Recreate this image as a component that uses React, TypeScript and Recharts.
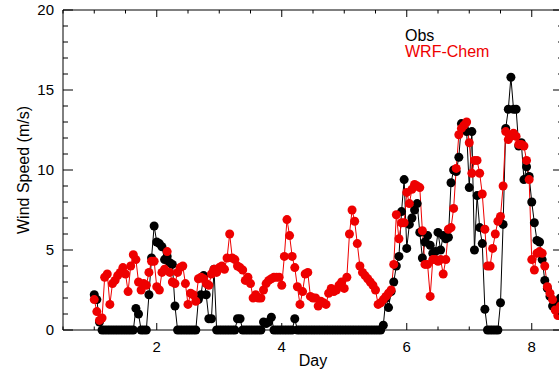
import React from 'react';
import { LineChart, Line, XAxis, YAxis } from 'recharts';

// hourly samples, starting at day 1.0
const START_DAY = 1;
const HOURS_PER_DAY = 24;

const DAY_TICKS = [0.5, 1, 1.5, 2, 2.5, 3, 3.5, 4, 4.5, 5, 5.5, 6, 6.5, 7, 7.5, 8, 8.5];
const DAY_LABELS = [2, 4, 6, 8];
const SPEED_TICKS = [0, 1, 2, 3, 4, 5, 6, 7, 8, 9, 10, 11, 12, 13, 14, 15, 16, 17, 18, 19, 20];
const SPEED_LABELS = [0, 5, 10, 15, 20];

// Obs wind speed (m/s), one row per day
const OBS_D1 = [2.2, 1.9, 0.5, 0, 0, 0, 0, 0, 0, 0, 0, 0, 0, 0, 0, 0, 1.35, 1.0, 0, 0, 0, 2.2, 4.5, 6.5];
const OBS_D2 = [5.5, 5.4, 5.2, 4.4, 4.6, 4.2, 4.1, 1.5, 0, 0, 0, 0, 0, 0, 0, 0, 1.9, 2.2, 3.4, 2.2, 0.7, 0.7, 3.8, 0];
const OBS_D3 = [0, 0, 0, 0, 0, 0, 0, 0.7, 0.7, 0, 0, 0, 0, 0, 0, 0, 0, 0.5, 0.4, 0.5, 0.8, 0, 0, 0];
const OBS_D4 = [0, 0, 0, 0, 0, 0.7, 0, 0, 0, 0, 0, 0, 0, 0, 0, 0, 0, 0, 0, 0, 0, 0, 0, 0];
const OBS_D5 = [0, 0, 0, 0, 0, 0, 0, 0, 0, 0, 0, 0, 0, 0, 0, 0.3, 2.0, 1.4, 2.4, 3.0, 4.0, 4.6, 7.4, 9.4];
const OBS_D6 = [5.1, 6.6, 7.0, 7.5, 7.9, 6.1, 4.5, 5.5, 5.9, 5.3, 4.8, 4.9, 6.1, 5.0, 5.9, 5.7, 5.8, 9.2, 10.0, 9.9, 10.8, 12.9, 12.7, 12.4];
const OBS_D7 = [8.9, 12.4, 5.0, 8.4, 6.4, 5.4, 1.3, 0, 0, 0, 0, 0, 1.7, 6.6, 12.6, 13.8, 15.8, 13.8, 13.8, 11.5, 11.7, 9.4, 10.2, 9.6];
const OBS_D8 = [8.0, 6.7, 5.6, 5.5, 4.4, 3.1, 2.6, 2.1, 1.5, 1.4, 1.7, 2.0];

// WRF-Chem wind speed (m/s)
const WRF_D1 = [1.9, 1.15, 0.6, 0.75, 3.3, 3.5, 1.6, 2.9, 3.1, 3.4, 3.6, 3.9, 3.5, 2.4, 4.0, 4.7, 4.4, 3.0, 2.5, 2.9, 2.8, 3.6, 4.3, 4.3];
const WRF_D2 = [2.7, 2.5, 3.6, 3.8, 4.9, 3.6, 3.0, 2.9, 3.6, 3.9, 4.0, 2.9, 1.6, 2.3, 2.2, 1.8, 3.2, 3.3, 3.2, 2.9, 2.8, 3.5, 3.8, 3.6];
const WRF_D3 = [3.9, 4.0, 3.8, 4.5, 6.0, 4.5, 4.4, 4.0, 3.9, 3.75, 3.1, 3.3, 2.9, 2.0, 2.2, 2.0, 2.0, 2.5, 2.9, 3.1, 3.2, 3.3, 3.3, 3.3];
const WRF_D4 = [2.8, 4.6, 6.9, 5.9, 4.6, 3.9, 2.7, 1.6, 2.4, 3.5, 3.6, 2.1, 2.0, 2.0, 1.5, 1.8, 1.7, 1.6, 2.3, 2.6, 2.4, 2.5, 2.8, 3.0];
const WRF_D5 = [2.6, 3.3, 6.0, 7.5, 6.8, 5.4, 4.0, 3.6, 3.4, 3.2, 3.0, 2.8, 2.5, 1.6, 1.7, 1.9, 2.1, 2.3, 2.5, 4.1, 7.2, 5.7, 6.7, 6.7];
const WRF_D6 = [8.6, 7.9, 8.8, 9.1, 9.0, 8.9, 6.2, 4.1, 4.1, 2.1, 4.4, 4.4, 4.3, 4.4, 3.5, 4.4, 6.3, 6.4, 7.6, 10.1, 12.2, 12.6, 12.8, 13.0];
const WRF_D7 = [11.7, 9.8, 10.6, 10.6, 9.8, 8.5, 6.3, 4.0, 4.0, 5.1, 6.0, 6.8, 7.1, 9.0, 12.4, 11.9, 12.1, 12.3, 12.1, 11.6, 11.6, 11.5, 10.6, 9.4];
const WRF_D8 = [4.4, 3.75, 4.8, 4.9, 4.8, 4.0, 2.7, 2.3, 1.9, 1.25, 0.9, 1.5];

const obsSpeed = [...OBS_D1, ...OBS_D2, ...OBS_D3, ...OBS_D4, ...OBS_D5, ...OBS_D6, ...OBS_D7, ...OBS_D8];
const wrfSpeed = [...WRF_D1, ...WRF_D2, ...WRF_D3, ...WRF_D4, ...WRF_D5, ...WRF_D6, ...WRF_D7, ...WRF_D8];

const chartData = obsSpeed.map((v, i) => ({
  day: START_DAY + i / HOURS_PER_DAY,
  obs: v,
  wrf: wrfSpeed[i],
}));

const FONT = '"Liberation Sans", Arial, Helvetica, sans-serif';
const RED = '#ee0000';

// IDL-style inward ticks
const BottomTick = ({ x, y, payload }: any) => {
  const major = DAY_LABELS.includes(payload.value);
  return (
    <g>
      <line x1={x} y1={y} x2={x} y2={y - (major ? 7 : 3.5)} stroke="#000" strokeWidth={1} />
      {major && (
        <text x={x} y={y + 22} textAnchor="middle" fontSize={15} fontFamily={FONT} fill="#000">
          {payload.value}
        </text>
      )}
    </g>
  );
};

const TopTick = ({ x, y, payload }: any) => {
  const major = DAY_LABELS.includes(payload.value);
  return <line x1={x} y1={y} x2={x} y2={y + (major ? 7 : 3.5)} stroke="#000" strokeWidth={1} />;
};

const LeftTick = ({ x, y, payload }: any) => {
  const major = SPEED_LABELS.includes(payload.value);
  return (
    <g>
      <line x1={x} y1={y} x2={x + (major ? 10 : 5)} y2={y} stroke="#000" strokeWidth={1} />
      {major && (
        <text x={x - 9} y={y + 5} textAnchor="end" fontSize={15} fontFamily={FONT} fill="#000">
          {payload.value}
        </text>
      )}
    </g>
  );
};

const RightTick = ({ x, y, payload }: any) => {
  const major = SPEED_LABELS.includes(payload.value);
  return <line x1={x} y1={y} x2={x - (major ? 10 : 5)} y2={y} stroke="#000" strokeWidth={1} />;
};

export default function App() {
  return (
    <div
      style={{
        position: 'absolute',
        left: 0,
        top: 0,
        width: 559,
        height: 375,
        overflow: 'hidden',
        background: '#fff',
        fontFamily: FONT,
      }}
    >
      <LineChart width={600} height={375} data={chartData} margin={{ top: 9, right: 36, bottom: 0, left: 0 }}>
        <XAxis
          dataKey="day"
          type="number"
          domain={[0.5, 8.5]}
          allowDataOverflow
          ticks={DAY_TICKS}
          interval={0}
          tickSize={0}
          tickMargin={0}
          tickLine={false}
          tick={<BottomTick />}
          height={45}
          axisLine={{ stroke: '#000' }}
          label={{ value: 'Day', position: 'insideBottom', offset: 9, fontSize: 16, fill: '#000', fontFamily: FONT }}
        />
        {/* same scale as the bottom axis; the model series is bound to it */}
        <XAxis
          xAxisId="top"
          dataKey="day"
          orientation="top"
          type="number"
          domain={[0.5, 8.5]}
          allowDataOverflow
          ticks={DAY_TICKS}
          interval={0}
          tickSize={0}
          tickMargin={0}
          tickLine={false}
          tick={<TopTick />}
          height={1}
          axisLine={{ stroke: '#000' }}
        />
        <YAxis
          type="number"
          domain={[0, 20]}
          allowDataOverflow
          ticks={SPEED_TICKS}
          interval={0}
          tickSize={0}
          tickMargin={0}
          tickLine={false}
          tick={<LeftTick />}
          width={63}
          axisLine={{ stroke: '#000' }}
          label={{
            value: 'Wind Speed (m/s)',
            angle: -90,
            position: 'insideLeft',
            offset: 23,
            fontSize: 16,
            fill: '#000',
            fontFamily: FONT,
            style: { textAnchor: 'middle' },
          }}
        />
        <YAxis
          yAxisId="right"
          orientation="right"
          type="number"
          domain={[0, 20]}
          allowDataOverflow
          ticks={SPEED_TICKS}
          interval={0}
          tickSize={0}
          tickMargin={0}
          tickLine={false}
          tick={<RightTick />}
          width={1}
          axisLine={{ stroke: '#000' }}
        />
        <Line
          dataKey="obs"
          stroke="#000"
          strokeWidth={1}
          dot={{ r: 4.5, fill: '#000', stroke: 'none', clipDot: false }}
          activeDot={false}
          isAnimationActive={false}
        />
        <Line
          dataKey="wrf"
          xAxisId="top"
          yAxisId="right"
          stroke={RED}
          strokeWidth={1}
          dot={{ r: 4.5, fill: RED, stroke: 'none', clipDot: false }}
          activeDot={false}
          isAnimationActive={false}
        />
      </LineChart>
      <div style={{ position: 'absolute', left: 405, top: 27, fontSize: 16, lineHeight: '18px', color: '#000' }}>Obs</div>
      <div style={{ position: 'absolute', left: 405, top: 43, fontSize: 16, lineHeight: '18px', color: RED }}>WRF-Chem</div>
    </div>
  );
}
